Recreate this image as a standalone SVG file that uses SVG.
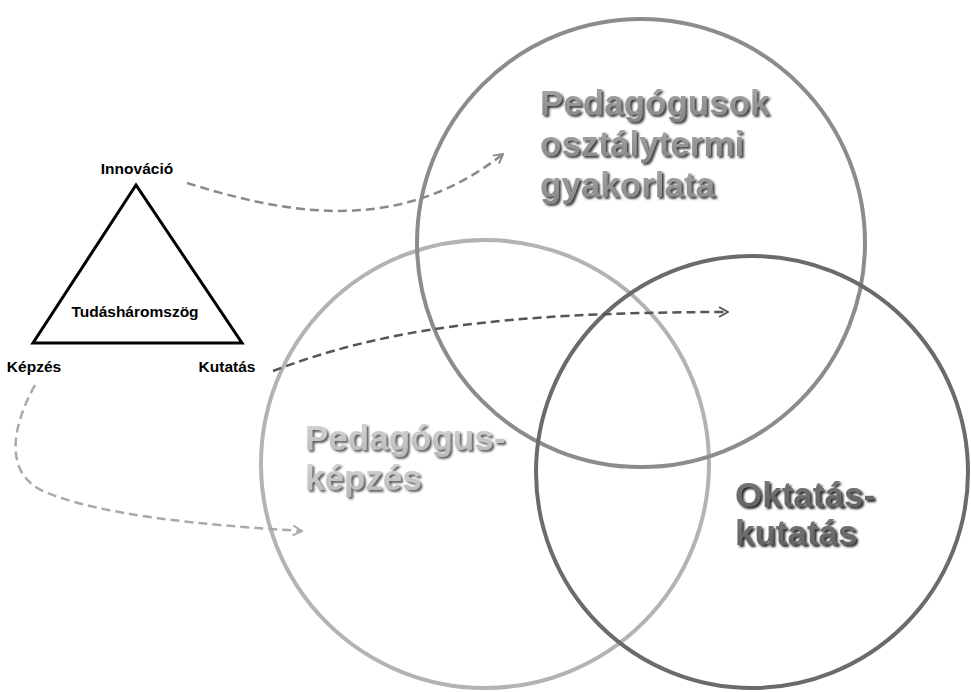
<svg xmlns="http://www.w3.org/2000/svg" width="971" height="692" viewBox="0 0 971 692">
<defs>
<style>
.lbl{font-family:"Liberation Sans",Arial,sans-serif;font-weight:bold;font-size:15.5px;fill:#000}
.big{font-family:"Liberation Sans",Arial,sans-serif;font-weight:bold;font-size:35px}
.ring{fill:none;stroke-width:4}
.dash{fill:none;stroke-width:2.5;stroke-dasharray:9 5}
</style>
<linearGradient id="gTop" x1="0" y1="0" x2="0" y2="1"><stop offset="0" stop-color="#a8a8a8"/><stop offset="1" stop-color="#858585"/></linearGradient>
<linearGradient id="gLeft" x1="0" y1="0" x2="0" y2="1"><stop offset="0" stop-color="#d6d6d6"/><stop offset="1" stop-color="#b8b8b8"/></linearGradient>
<linearGradient id="gRight" x1="0" y1="0" x2="0" y2="1"><stop offset="0" stop-color="#7a7a7a"/><stop offset="1" stop-color="#5e5e5e"/></linearGradient>
<filter id="shTop" x="-10%" y="-10%" width="120%" height="130%"><feDropShadow dx="2" dy="2" stdDeviation="0.8" flood-color="#3a3a3a"/></filter>
<filter id="shLeft" x="-10%" y="-10%" width="120%" height="130%"><feDropShadow dx="2" dy="2" stdDeviation="0.8" flood-color="#5a5a5a"/></filter>
<filter id="shRight" x="-10%" y="-10%" width="120%" height="130%"><feDropShadow dx="2" dy="2" stdDeviation="0.8" flood-color="#222"/></filter>
<marker id="aMid" viewBox="0 0 12 12" refX="11" refY="6" markerWidth="12" markerHeight="12" markerUnits="userSpaceOnUse" orient="auto"><path d="M2,1 L11,6 L2,11" fill="none" stroke="#8a8a8a" stroke-width="2"/></marker>
<marker id="aDark" viewBox="0 0 12 12" refX="11" refY="6" markerWidth="12" markerHeight="12" markerUnits="userSpaceOnUse" orient="auto"><path d="M2,1 L11,6 L2,11" fill="none" stroke="#555" stroke-width="2"/></marker>
<marker id="aLight" viewBox="0 0 12 12" refX="11" refY="6" markerWidth="12" markerHeight="12" markerUnits="userSpaceOnUse" orient="auto"><path d="M2,1 L11,6 L2,11" fill="none" stroke="#aaa" stroke-width="2"/></marker>
</defs>
<rect width="971" height="692" fill="#fff"/>

<g id="kepzes-circle">
<circle class="ring" cx="485" cy="464" r="224" stroke="#b3b3b3"/>
</g>
<g id="gyakorlat-circle">
<circle class="ring" cx="641" cy="243" r="224" stroke="#8c8c8c"/>
</g>
<g id="kutatas-circle">
<circle class="ring" cx="752" cy="472" r="216" stroke="#6b6b6b"/>
</g>

<g id="gyakorlat-label" filter="url(#shTop)">
<text class="big" fill="url(#gTop)" x="540" y="115">Pedagógusok</text>
<text class="big" fill="url(#gTop)" x="540" y="156">osztálytermi</text>
<text class="big" fill="url(#gTop)" x="540" y="197">gyakorlata</text>
</g>
<g id="kepzes-label" filter="url(#shLeft)">
<text class="big" fill="url(#gLeft)" x="305" y="450">Pedagógus-</text>
<text class="big" fill="url(#gLeft)" x="305" y="490">képzés</text>
</g>
<g id="kutatas-label" filter="url(#shRight)">
<text class="big" fill="url(#gRight)" x="735" y="507" font-size="34">Oktatás-</text>
<text class="big" fill="url(#gRight)" x="735" y="545" font-size="34">kutatás</text>
</g>

<g id="triangle">
<polygon points="136,185 33,343 242,343" fill="none" stroke="#000" stroke-width="3" stroke-linejoin="miter"/>
<text class="lbl" x="135" y="317" text-anchor="middle">Tudásháromszög</text>
</g>
<g id="innovacio"><text class="lbl" x="137" y="174" text-anchor="middle">Innováció</text></g>
<g id="kepzes"><text class="lbl" x="34" y="372" text-anchor="middle">Képzés</text></g>
<g id="kutatas"><text class="lbl" x="227" y="372" text-anchor="middle">Kutatás</text></g>

<g id="connectors">
<path class="dash" stroke="#8a8a8a" d="M187,183 C290,215 400,235 503,154" marker-end="url(#aMid)"/>
<path class="dash" stroke="#555" d="M273,371 C380,330 500,312 728,312" marker-end="url(#aDark)"/>
<path class="dash" stroke="#aaa" d="M35,385 C10,430 5,475 45,492 C100,515 200,525 302,531" marker-end="url(#aLight)"/>
</g>
</svg>
